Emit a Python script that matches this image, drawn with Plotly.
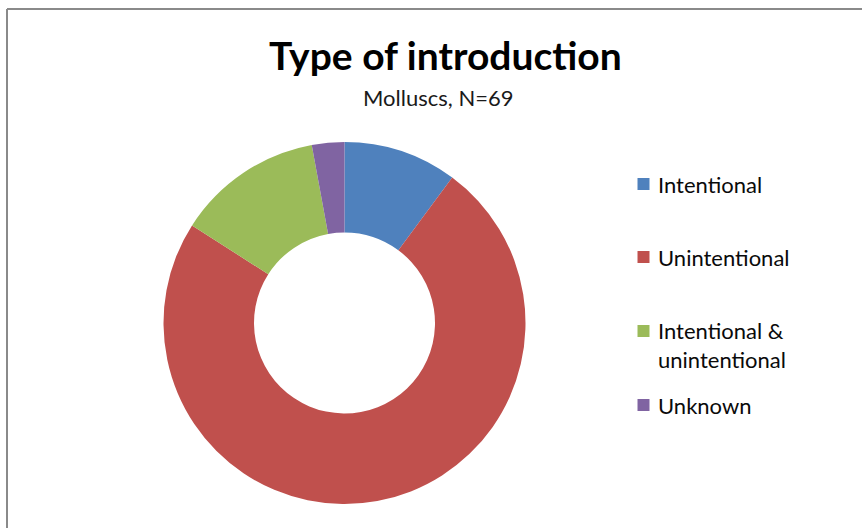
import plotly.graph_objects as go

# Introduction pathways of non-native molluscs (N = 69)
labels = ["Intentional", "Unintentional", "Intentional &<br>unintentional", "Unknown"]
counts = [7, 51, 9, 2]
colors = ["#4F81BD", "#C0504D", "#9BBB59", "#8064A2"]

W, H = 862, 528
FONT = "Lato, Carlito, Calibri, 'Open Sans', sans-serif"


def px(x):
    return x / W


def py(y):
    return 1 - y / H


fig = go.Figure()
fig.add_trace(go.Pie(
    labels=labels,
    values=counts,
    marker=dict(colors=colors, line=dict(width=0)),
    hole=0.5,
    sort=False,
    direction="clockwise",
    rotation=0,
    textinfo="none",
    hoverinfo="label+value+percent",
    showlegend=False,
    domain=dict(x=[px(344.5 - 181), px(344.5 + 181)], y=[py(504), py(142)]),
))

# Title and subtitle
fig.add_annotation(text="<b>Type of introduction</b>", x=px(445), y=py(55),
                   xref="paper", yref="paper", showarrow=False,
                   xanchor="center", yanchor="middle",
                   font=dict(family=FONT, size=39, color="#000000"))
fig.add_annotation(text="Molluscs, N=69", x=px(438), y=py(98),
                   xref="paper", yref="paper", showarrow=False,
                   xanchor="center", yanchor="middle",
                   font=dict(family=FONT, size=22, color="#1a1a1a"))

# Legend: coloured square plus label for each category
legend_y = [184, 257, 345, 405]
marker_y = [184, 257, 331, 405]
for lab, col, ty, my in zip(labels, colors, legend_y, marker_y):
    fig.add_shape(type="rect", xref="paper", yref="paper",
                  x0=px(637.5), x1=px(649.5), y0=py(my + 6), y1=py(my - 6),
                  fillcolor=col, line=dict(width=0))
    fig.add_annotation(text=lab, x=px(656), y=py(ty), xref="paper", yref="paper",
                       showarrow=False, xanchor="left", yanchor="middle", align="left",
                       font=dict(family=FONT, size=22, color="#0a0a0a"))

# Chart-area frame
fig.add_shape(type="line", xref="paper", yref="paper",
              x0=px(7), x1=1.01, y0=py(9), y1=py(9),
              line=dict(color="#8a8a8a", width=2))
fig.add_shape(type="line", xref="paper", yref="paper",
              x0=px(7), x1=px(7), y0=py(9), y1=-0.01,
              line=dict(color="#8a8a8a", width=2))

fig.update_layout(
    width=W, height=H,
    margin=dict(l=0, r=0, t=0, b=0),
    paper_bgcolor="white", plot_bgcolor="white",
    showlegend=False,
)

fig.write_html("out.html")
